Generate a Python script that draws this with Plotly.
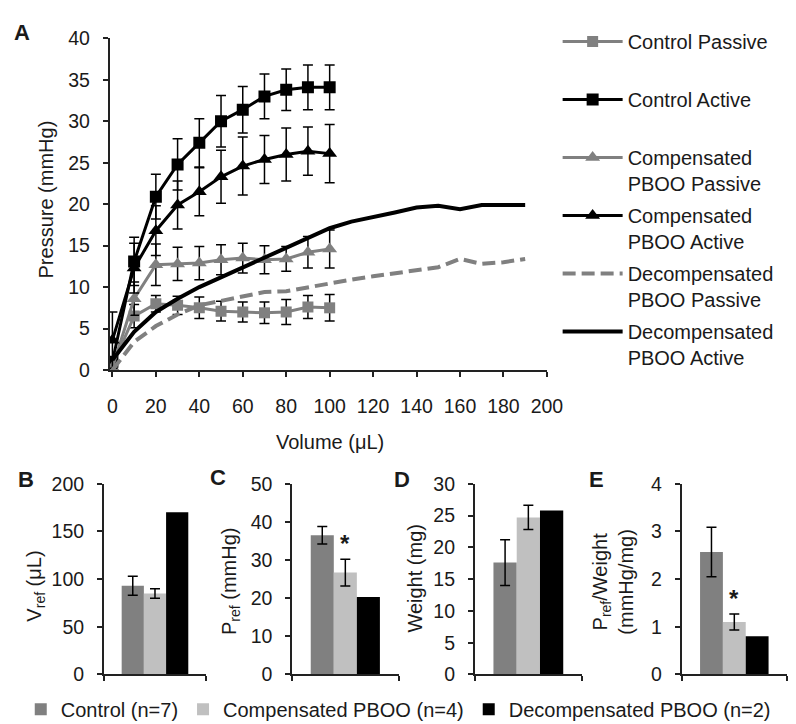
import plotly.graph_objects as go

# Painel A - curvas pressão x volume
vol = [0, 10, 20, 30, 40, 50, 60, 70, 80, 90, 100]
ctrl_passive = [0.5, 6.5, 8.0, 7.8, 7.5, 7.1, 7.0, 6.9, 7.0, 7.6, 7.5]
ctrl_passive_err = [0.3, 1.4, 1.0, 1.1, 1.3, 1.2, 1.2, 1.3, 1.5, 1.4, 1.6]
ctrl_active = [1.0, 13.1, 20.9, 24.8, 27.4, 30.0, 31.4, 33.0, 33.8, 34.1, 34.1]
ctrl_active_err = [0.5, 2.9, 2.7, 3.1, 2.9, 3.1, 2.8, 2.7, 2.5, 2.7, 2.7]
comp_passive = [0.3, 8.6, 12.7, 12.8, 12.9, 13.3, 13.5, 13.3, 13.4, 14.2, 14.6]
comp_passive_err = [0.2, 2.0, 2.5, 2.0, 2.0, 1.8, 1.8, 1.7, 1.5, 1.9, 2.3]
comp_active = [3.6, 12.3, 16.8, 19.9, 21.5, 23.3, 24.6, 25.4, 26.0, 26.4, 26.1]
comp_active_err = [3.4, 3.0, 3.0, 2.9, 2.9, 3.2, 3.5, 2.9, 3.2, 2.9, 3.5]

vol_decomp = [0, 10, 20, 30, 40, 50, 60, 70, 80, 90, 100,
              110, 120, 130, 140, 150, 160, 170, 180, 190]
decomp_passive = [0.0, 3.4, 5.3, 6.7, 7.8, 8.3, 8.8, 9.4, 9.5, 10.0, 10.4,
                  10.9, 11.3, 11.7, 12.1, 12.4, 13.4, 12.8, 13.0, 13.4]
decomp_active = [1.2, 4.6, 7.0, 8.6, 10.0, 11.2, 12.4, 13.6, 14.8, 16.0, 17.1,
                 17.9, 18.4, 19.0, 19.6, 19.8, 19.4, 19.9, 19.9, 19.9]

# Paineis B-E - barras
grupos = ["Control (n=7)", "Compensated PBOO (n=4)", "Decompensated PBOO (n=2)"]
cores_barras = ["#808080", "#c0c0c0", "#000000"]
vref = [93, 85, 170]
vref_err = [10, 5, None]
pref = [36.5, 26.7, 20.3]
pref_err = [2.3, 3.5, None]
peso = [17.6, 24.7, 25.8]
peso_err = [3.6, 1.9, None]
pref_peso = [2.57, 1.10, 0.80]
pref_peso_err = [0.52, 0.17, None]

W, H = 796, 724
FONTE = "Arial, 'Liberation Sans', sans-serif"
TXT = "#1a1a1a"
CINZA = "#808080"


def px_x(p):
    return p / W


def px_y(p):
    return 1 - p / H


fig = go.Figure()

erro = dict(type="data", color="black", thickness=1.5, width=5)

# nomes de uma linha ganham uma linha vazia para o espaçamento da legenda ficar uniforme
series = [
    ("Control Passive<br> ", ctrl_passive, ctrl_passive_err, CINZA, "square", 11),
    ("Control Active<br> ", ctrl_active, ctrl_active_err, "black", "square", 12),
    ("Compensated<br>PBOO Passive", comp_passive, comp_passive_err, CINZA, "triangle-up", 13),
    ("Compensated<br>PBOO Active", comp_active, comp_active_err, "black", "triangle-up", 13),
]
for i, (nome, ys, es, cor, simb, tam) in enumerate(series):
    fig.add_trace(go.Scatter(
        x=vol, y=ys, name=nome, mode="lines+markers",
        line=dict(color=cor, width=3),
        marker=dict(symbol=simb, size=tam, color=cor),
        error_y=dict(erro, array=es),
        legendgroup=f"g{i}", xaxis="x", yaxis="y"))

fig.add_trace(go.Scatter(
    x=vol_decomp, y=decomp_passive, name="Decompensated<br>PBOO Passive", mode="lines",
    line=dict(color=CINZA, width=4, dash="13px,6px"), legendgroup="g4", xaxis="x", yaxis="y"))
fig.add_trace(go.Scatter(
    x=vol_decomp, y=decomp_active, name="Decompensated<br>PBOO Active", mode="lines",
    line=dict(color="black", width=4), legendgroup="g5", xaxis="x", yaxis="y"))

paineis = [(vref, vref_err, "2"), (pref, pref_err, "3"), (peso, peso_err, "4"),
           (pref_peso, pref_peso_err, "5")]
for k, (vals, errs, ax) in enumerate(paineis):
    for j in range(3):
        fig.add_trace(go.Bar(
            x=[0], y=[vals[j]], name=grupos[j], marker=dict(color=cores_barras[j], line_width=0),
            error_y=dict(erro, array=[errs[j]], visible=errs[j] is not None),
            xaxis="x" + ax, yaxis="y" + ax, legend="legend2",
            showlegend=(k == 0)))

eixo = dict(showline=True, linecolor="#222", linewidth=1.5, ticks="outside", ticklen=5,
            tickcolor="#222", tickwidth=1.5, showgrid=False, zeroline=False,
            ticklabelstandoff=9,
            tickfont=dict(size=19.5, color=TXT, family=FONTE))

y_bar = [px_y(676), px_y(479.3)]
layout = dict(
    width=W, height=H, margin=dict(l=0, r=0, t=0, b=0),
    paper_bgcolor="white", plot_bgcolor="white",
    font=dict(family=FONTE, size=20, color=TXT),
    barmode="group", bargap=0.35, bargroupgap=0,
    xaxis=dict(eixo, domain=[px_x(101), px_x(549)], range=[-1.3, 200],
               tickvals=list(range(0, 201, 20)), ticklabelstandoff=13),
    yaxis=dict(eixo, domain=[px_y(362), px_y(20)], range=[0, 40], dtick=5),
    legend=dict(x=px_x(560), y=px_y(3), xanchor="left", yanchor="top",
                font=dict(size=20, color=TXT), tracegroupgap=3, itemwidth=60, valign="top",
                bgcolor="rgba(0,0,0,0)"),
    legend2=dict(orientation="h", x=px_x(10), y=px_y(712), xanchor="left", yanchor="middle",
                 font=dict(size=20, color=TXT), bgcolor="rgba(0,0,0,0)"),
)
dominios_x = {"2": (95, 200), "3": (288, 397), "4": (475, 585), "5": (687, 795)}
faixas_y = {"2": (200, 50), "3": (50, 10), "4": (30, 5), "5": (4, 1)}
for ax, (a, b) in dominios_x.items():
    layout["xaxis" + ax] = dict(eixo, domain=[px_x(a), px_x(b)], range=[-0.5, 0.5],
                                tickvals=[-0.5, 0.5], showticklabels=False, anchor="y" + ax)
    topo, passo = faixas_y[ax]
    layout["yaxis" + ax] = dict(eixo, domain=y_bar, range=[0, topo], dtick=passo, anchor="x" + ax)
layout["xaxis"]["anchor"] = "y"
layout["yaxis"]["anchor"] = "x"
fig.update_layout(**layout)

# letras dos painéis e títulos dos eixos
letras = {"A": (11, 14), "B": (15, 475), "C": (212, 473), "D": (401, 475), "E": (600, 475)}
for letra, (lx, ly) in letras.items():
    fig.add_annotation(text=f"<b>{letra}</b>", x=px_x(lx), y=px_y(ly), xref="paper", yref="paper",
                       xanchor="center", yanchor="middle",
                       showarrow=False, font=dict(size=22, color=TXT))

titulos = [
    ("Pressure (mmHg)", 36, 186, -90),
    ("Volume (μL)", 327, 436, 0),
    ("V<sub>ref</sub> (μL)", 25, 585, -90),
    ("P<sub>ref</sub> (mmHg)", 225, 580, -90),
    ("Weight (mg)", 414, 577, -90),
    ("P<sub>ref</sub>/Weight<br>(mmHg/mg)", 617, 580, -90),
]
for txt, tx, ty, ang in titulos:
    fig.add_annotation(text=txt, x=px_x(tx), y=px_y(ty), xref="paper", yref="paper",
                       xanchor="center", yanchor="middle",
                       showarrow=False, textangle=ang, font=dict(size=20, color=TXT))

# asteriscos de significância
fig.add_annotation(text="<b>*</b>", x=0, y=pref[1] + pref_err[1], xref="x3", yref="y3",
                   yanchor="bottom", showarrow=False, font=dict(size=24, color=TXT))
fig.add_annotation(text="<b>*</b>", x=0, y=pref_peso[1] + pref_peso_err[1], xref="x5", yref="y5",
                   yanchor="bottom", showarrow=False, font=dict(size=24, color=TXT))

fig.write_html("out.html")
